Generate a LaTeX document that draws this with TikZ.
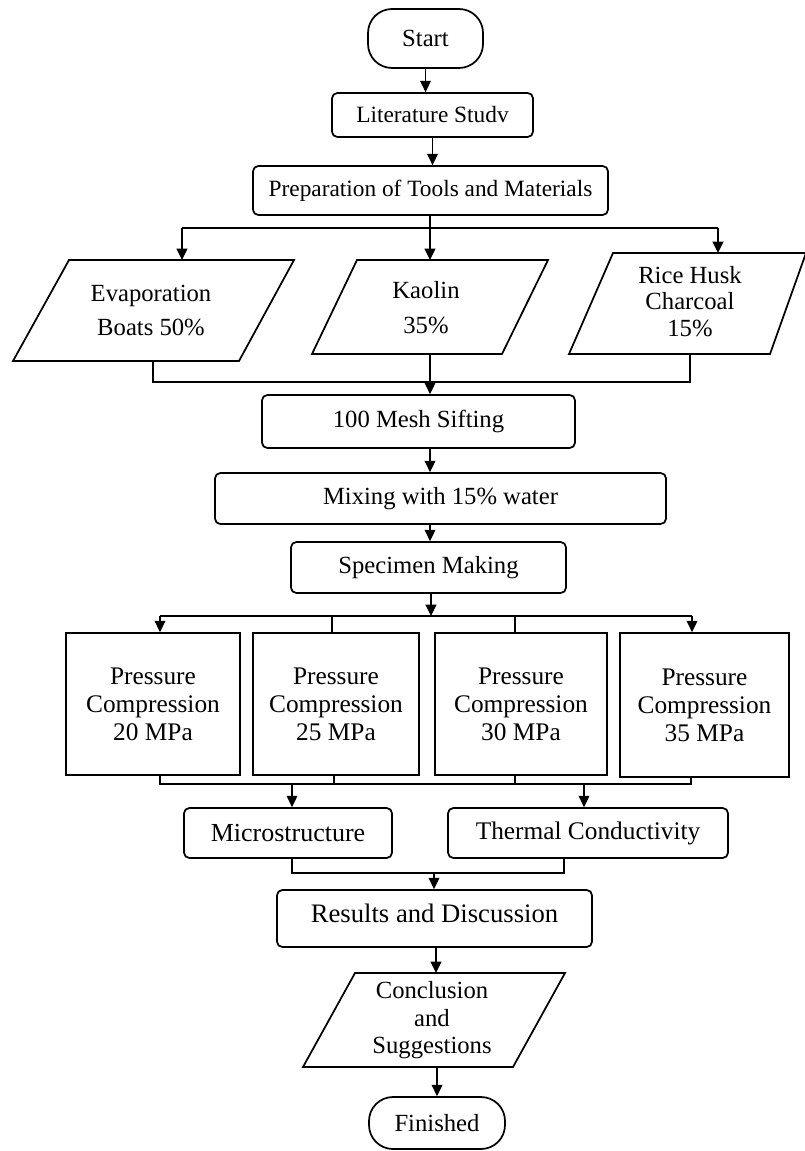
\documentclass[tikz,border=0pt]{standalone}
\usepackage{fontspec}
\setmainfont{Liberation Serif}
\usetikzlibrary{arrows.meta}
\begin{document}
\begin{tikzpicture}[x=0.75pt,y=-0.75pt, line width=1.3pt,
  rbox/.style={draw, rounded corners=4pt, inner sep=0pt, align=center},
  term/.style={draw, rounded corners=18pt, inner sep=0pt, align=center},
  sbox/.style={draw, inner sep=0pt, align=center},
  ptext/.style={inner sep=0pt, align=center},
  arr/.style={-{Triangle[length=8.5pt,width=8pt]}},
  fA/.style={font=\fontsize{18.5}{21}\selectfont},
  fS/.style={font=\fontsize{17.5}{20}\selectfont},
  fL/.style={font=\fontsize{19.5}{22}\selectfont}]
\useasboundingbox (0,0) rectangle (805,1151);

% main boxes
\node[term, fA, minimum width=86.25pt, minimum height=44.25pt] (start) at (425.5,38.5) {Start};
\node[rbox, fS, minimum width=150.75pt, minimum height=33pt] (lit) at (432.5,115) {Literature Studv};
\node[rbox, fS, minimum width=266.25pt, minimum height=36.75pt] (prep) at (430.5,190.5) {Preparation of Tools and Materials};

% parallelograms (materials)
\draw (69,260) -- (294,260) -- (239,361) -- (13,361) -- cycle;
\draw (357,260) -- (548,260) -- (502,354) -- (312,354) -- cycle;
\draw (613,253) -- (806,253) -- (770,354) -- (569,354) -- cycle;
\node[ptext, font=\fontsize{18.5}{25.5}\selectfont] (evap) at (151,310) {Evaporation\\Boats 50\%};
\node[ptext, font=\fontsize{18.5}{26}\selectfont] (kaol) at (426,307.5) {Kaolin\\35\%};
\node[ptext, font=\fontsize{18.5}{20}\selectfont] (rice) at (690,301.5) {Rice Husk\\Charcoal\\15\%};
\coordinate (evT) at (182,260);
\coordinate (kaT) at (430,260);
\coordinate (riT) at (718,253);
\coordinate (evB) at (153,361);
\coordinate (kaB) at (430,354);
\coordinate (riB) at (690,354);
\coordinate (b1) at (430,228);
\coordinate (j1) at (430,382);

\node[rbox, fA, minimum width=234.75pt, minimum height=39.75pt] (mesh) at (418.5,421.5) {100 Mesh Sifting};
\node[rbox, fA, minimum width=338.25pt, minimum height=38.25pt] (mix) at (440.5,498.5) {Mixing with 15\% water};
\node[rbox, fA, minimum width=206.25pt, minimum height=38.25pt] (spec) at (428.5,567.5) {Specimen Making};

% pressure boxes
\node[sbox, font=\fontsize{19}{21}\selectfont, minimum width=130.5pt, minimum height=106.5pt] (p1) at (153,704) {Pressure\\Compression\\20 MPa};
\node[sbox, font=\fontsize{19}{21}\selectfont, minimum width=124.5pt, minimum height=106.5pt] (p2) at (336,704) {Pressure\\Compression\\25 MPa};
\node[sbox, font=\fontsize{19}{21}\selectfont, minimum width=129pt, minimum height=106.5pt] (p3) at (521,704) {Pressure\\Compression\\30 MPa};
\node[sbox, font=\fontsize{19}{21}\selectfont, minimum width=126.75pt, minimum height=108pt] (p4) at (704.5,705) {Pressure\\Compression\\35 MPa};

\node[rbox, fL, minimum width=156pt, minimum height=37.5pt] (micro) at (288,833) {Microstructure};
\node[rbox, font=\fontsize{19}{21}\selectfont, minimum width=210pt, minimum height=37.5pt] (therm) at (588,833) {Thermal Conductivity};
\node[rbox, font=\fontsize{20}{22}\selectfont, minimum width=236.25pt, minimum height=42.75pt, text depth=8pt] (res) at (434.5,918.5) {Results and Discussion};

% conclusion parallelogram
\draw (355,973) -- (565,973) -- (513,1067) -- (303,1067) -- cycle;
\node[ptext, font=\fontsize{18.5}{20.6}\selectfont] (conc) at (432,1020.5) {Conclusion\\and\\Suggestions};
\coordinate (concT) at (436,973);
\coordinate (concB) at (437,1067);

\node[term, fA, minimum width=102pt, minimum height=39pt] (fin) at (437,1123) {Finished};

% connectors top
\draw[arr] (start.south) -- (start.south |- lit.north);
\draw[arr] (lit.south) -- (lit.south |- prep.north);
\draw (prep.south -| b1) -- (b1);
\draw (evT |- b1) -- (riT |- b1);
\draw[arr] (evT |- b1) -- (evT);
\draw[arr] (b1) -- (kaT);
\draw[arr] (riT |- b1) -- (riT);

% connectors materials -> mesh
\draw (evB) -- (evB |- j1) -- (riB |- j1) -- (riB);
\draw (kaB) -- (j1);
\draw[arr] (j1) -- (j1 |- mesh.north);
\draw[arr] (j1 |- mesh.south) -- (j1 |- mix.north);
\draw[arr] (j1 |- mix.south) -- (j1 |- spec.north);

% specimen -> pressure boxes
\coordinate (j2) at (431,616);
\coordinate (a1) at (160,616);
\coordinate (a2) at (332,616);
\coordinate (a3) at (515,616);
\coordinate (a4) at (692,616);
\draw[arr] (j2 |- spec.south) -- (j2);
\draw (a1) -- (a4);
\draw[arr] (a1) -- (a1 |- p1.north);
\draw (a2) -- (a2 |- p2.north);
\draw (a3) -- (a3 |- p3.north);
\draw[arr] (a4) -- (a4 |- p4.north);

% pressure boxes -> tests
\coordinate (c1) at (160,784);
\coordinate (c2) at (334,784);
\coordinate (c3) at (515,784);
\coordinate (c4) at (691,784);
\coordinate (d1) at (292,784);
\coordinate (d2) at (584,784);
\draw (c1 |- p1.south) -- (c1) -- (c4) -- (c4 |- p4.south);
\draw (c2 |- p2.south) -- (c2);
\draw (c3 |- p3.south) -- (c3);
\draw[arr] (d1) -- (d1 |- micro.north);
\draw[arr] (d2) -- (d2 |- therm.north);

% tests -> results
\coordinate (e1) at (292,873);
\coordinate (e2) at (564,873);
\coordinate (em) at (434,873);
\draw (e1 |- micro.south) -- (e1) -- (e2) -- (e2 |- therm.south);
\draw[arr] (em) -- (em |- res.north);
\draw[arr] (concT |- res.south) -- (concT);
\draw[arr] (concB) -- (concB |- fin.north);
\end{tikzpicture}
\end{document}
